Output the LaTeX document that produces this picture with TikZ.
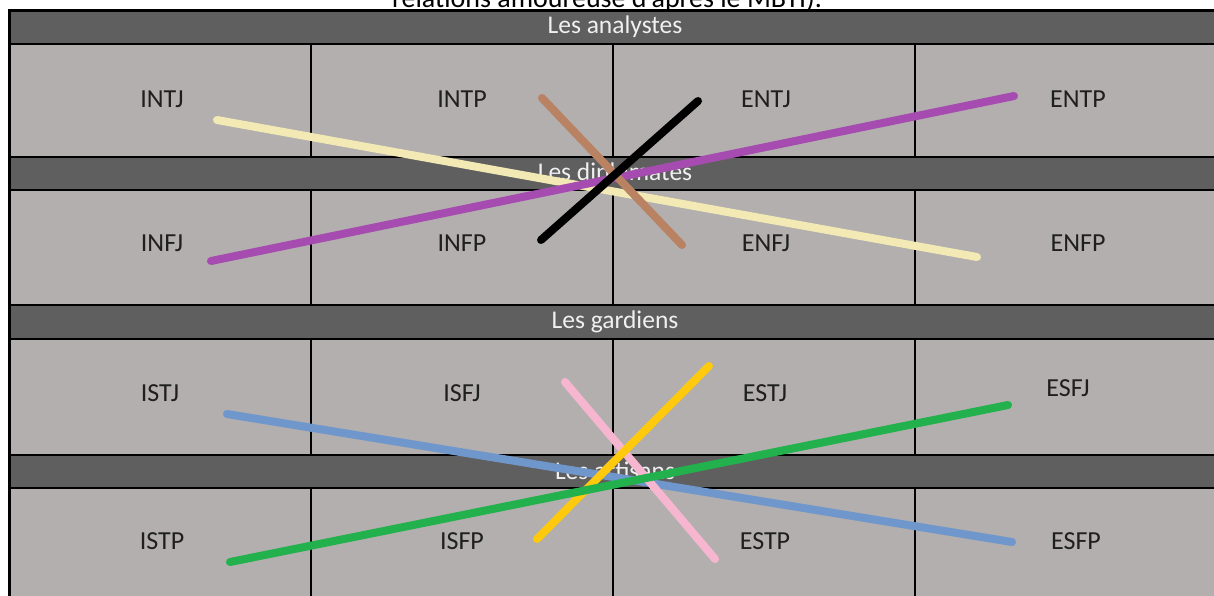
\documentclass[tikz,border=0pt]{standalone}
\usepackage{fontspec}
\setmainfont{Carlito}
\definecolor{griscase}{HTML}{B2AFAE}
\definecolor{grisbande}{HTML}{5F5F5F}
\definecolor{creme}{HTML}{F3E9B5}
\definecolor{violet}{HTML}{A64CB0}
\definecolor{brun}{HTML}{B98262}
\definecolor{bleu}{HTML}{7097CB}
\definecolor{vert}{HTML}{22B14C}
\definecolor{rose}{HTML}{F7B6CF}
\definecolor{jaune}{HTML}{FFC90E}
\begin{document}
\begin{tikzpicture}[x=1pt,y=-1pt,
    case/.style={draw=black,line width=1.6pt,fill=griscase},
    bande/.style={draw=black,line width=1.6pt,fill=grisbande},
    type/.style={font=\fontsize{26}{30}\selectfont,text=black!88},
    groupe/.style={font=\fontsize{25.5}{30}\selectfont,text=white!94!black},
    lien/.style={line width=8pt,line cap=round}]
    \useasboundingbox (0,0) rectangle (1214,595);

    % Titre (coupé en haut)
    \node[font=\fontsize{28}{32}\selectfont,anchor=base] (titre) at (607,7) {relations amoureuse d'après le MBTI).};

    % Cases
    \foreach \ya/\yb in {44/157,190/305,339/455,488/610}
      \foreach \xa/\xb in {9/311,311/613,613/915,915/1230}
        \draw[case] (\xa,\ya) rectangle (\xb,\yb);

    % Bandeaux
    \foreach \ya/\yb in {10/44,157/190,305/339,455/488}
      \draw[bande] (9,\ya) rectangle (1230,\yb);
    \draw[line width=3pt] (9,610) -- (9,10) -- (1230,10);

    \node[groupe] (analystes) at (615,27) {Les analystes};
    \node[groupe] (diplomates) at (615,174) {Les diplomates};
    \node[groupe] (gardiens) at (615,322) {Les gardiens};
    \node[groupe] (artisans) at (615,471) {Les artisans};

    % Types
    \node[type] (intj) at (162,99) {INTJ};
    \node[type] (intp) at (462,99) {INTP};
    \node[type] (entj) at (766,99) {ENTJ};
    \node[type] (entp) at (1078,99) {ENTP};
    \node[type] (infj) at (162,243) {INFJ};
    \node[type] (infp) at (462,243) {INFP};
    \node[type] (enfj) at (766,243) {ENFJ};
    \node[type] (enfp) at (1078,243) {ENFP};
    \node[type] (istj) at (160,393) {ISTJ};
    \node[type] (isfj) at (462,393) {ISFJ};
    \node[type] (estj) at (765,393) {ESTJ};
    \node[type] (esfj) at (1068,388) {ESFJ};
    \node[type] (istp) at (162,541) {ISTP};
    \node[type] (isfp) at (462,541) {ISFP};
    \node[type] (estp) at (765,541) {ESTP};
    \node[type] (esfp) at (1076,541) {ESFP};

    % Extrémités des liens
    \coordinate (c-intj) at (217,120);
    \coordinate (c-enfp) at (977,257);
    \coordinate (c-infj) at (211,261);
    \coordinate (c-entp) at (1014,96);
    \coordinate (c-intp) at (542,98);
    \coordinate (c-enfj) at (682,245);
    \coordinate (c-infp) at (541,240);
    \coordinate (c-entj) at (698,101);
    \coordinate (c-istj) at (227,414);
    \coordinate (c-esfp) at (1012,542);
    \coordinate (c-istp) at (230,562);
    \coordinate (c-esfj) at (1008,405);
    \coordinate (c-isfj) at (565,382);
    \coordinate (c-estp) at (715,559);
    \coordinate (c-isfp) at (537,539);
    \coordinate (c-estj) at (709,366);

    % Liens
    \draw[lien,creme] (c-intj) -- (c-enfp);
    \draw[lien,violet] (c-infj) -- (c-entp);
    \draw[lien,brun] (c-intp) -- (c-enfj);
    \draw[lien,black] (c-infp) -- (c-entj);
    \draw[lien,bleu] (c-istj) -- (c-esfp);
    \draw[lien,rose] (c-isfj) -- (c-estp);
    \draw[lien,jaune] (c-isfp) -- (c-estj);
    \draw[lien,vert] (c-istp) -- (c-esfj);
\end{tikzpicture}
\end{document}
